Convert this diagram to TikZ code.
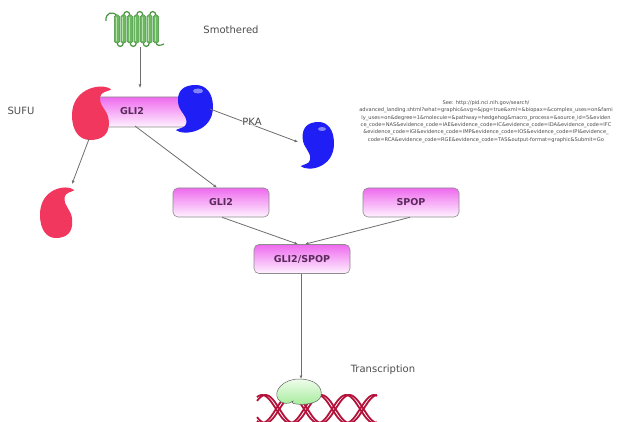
\documentclass[tikz,border=0pt]{standalone}
\usepackage{fontspec}
\setmainfont{DejaVu Sans}
\usetikzlibrary{arrows.meta}

\definecolor{lbl}{HTML}{4D4D4D}
\definecolor{boxtxt}{HTML}{5A2A5A}
\definecolor{magtop}{HTML}{EE6AEE}
\definecolor{magbot}{HTML}{FFF2FF}
\definecolor{boxedge}{HTML}{8C8C8C}
\definecolor{sufured}{HTML}{F2375E}
\definecolor{pkablue}{HTML}{1E1EF5}
\definecolor{linkgray}{HTML}{6E6E6E}
\definecolor{dnared}{HTML}{B3123A}
\definecolor{helixgreen}{HTML}{6DB862}
\definecolor{helixdark}{HTML}{4A9442}
\definecolor{helixlight}{HTML}{B2E2A6}
\definecolor{beantop}{HTML}{EEFCEA}
\definecolor{beanbot}{HTML}{A6EC9C}

\tikzset{
  protbox/.style={draw=boxedge, line width=0.6pt, rounded corners=5pt,
    minimum width=96pt, minimum height=29pt, top color=magtop, bottom color=magbot,
    font=\bfseries\fontsize{9.5}{11}\selectfont, text=boxtxt, inner sep=0pt},
  lbltxt/.style={font=\fontsize{10}{12}\selectfont, text=lbl, inner sep=0pt},
  urltxt/.style={font=\fontsize{5.1}{7.4}\selectfont, text=lbl, inner sep=0pt, align=center},
  link/.style={draw=linkgray, line width=0.8pt, -{Latex[length=3.5pt,width=3pt]}},
  dnastrand/.style={draw=dnared, line width=1.8pt},
  comma/.pic={
    \fill[pic actions] (0.98,0.08) .. controls (0.75,-0.05) and (0.0,0.05) .. (0.0,0.55)
      .. controls (0.0,0.85) and (0.2,1.0) .. (0.45,1.0)
      .. controls (0.75,1.0) and (0.95,0.9) .. (0.92,0.65)
      .. controls (0.9,0.45) and (0.68,0.4) .. (0.7,0.22)
      .. controls (0.72,0.12) and (0.9,0.12) .. (0.98,0.08) -- cycle;
  }
}

\begin{document}
\begin{tikzpicture}[x=1pt,y=-1pt]
\useasboundingbox (0,0) rectangle (619,422);
\clip (0,0) rectangle (619,422);
\fill[white] (0,0) rectangle (619,422);

% ---- Smoothened: seven transmembrane helices ----
\draw[helixdark, line width=1.2pt]
  (106,21) .. controls (105,13) and (113,10) .. (117,16)
  (117,42) .. controls (117,48) and (123.5,48) .. (123.5,42)
  (123.5,16) .. controls (123.5,10) and (130,10) .. (130,16)
  (130,42) .. controls (130,48) and (136.5,48) .. (136.5,42)
  (136.5,16) .. controls (136.5,10) and (143,10) .. (143,16)
  (143,42) .. controls (143,48) and (149.5,48) .. (149.5,42)
  (149.5,16) .. controls (149.5,10) and (156,10) .. (156,16)
  (156,42) .. controls (156,46) and (160,46) .. (164,44);
\foreach \hx in {117,123.5,130,136.5,143,149.5,156}{
  \fill[helixgreen, draw=helixdark, line width=0.5pt, rounded corners=1.5pt]
    (\hx-2.6,15) rectangle (\hx+2.6,43);
  \draw[helixlight, line width=1pt] (\hx-0.6,17) -- (\hx-0.6,41);
}
\node[lbltxt] (smoLbl) at (231,30) {Smothered};

% ---- GLI2 held by SUFU and PKA ----
\node[protbox, minimum width=92pt, minimum height=30pt, rounded corners=3pt] (gliBar) at (143,112) {};
\node[font=\bfseries\fontsize{9.5}{11}\selectfont, text=boxtxt, inner sep=0pt] (gliBarTxt) at (132,111) {GLI2};

\pic[fill=sufured, xscale=40, yscale=55] at (72,85) {comma};
\pic[fill=pkablue, xscale=-38, yscale=-49] at (213,134) {comma};
\fill[white, opacity=0.45] (198,91) ellipse (5pt and 2.5pt);
\node[lbltxt] (sufuLbl) at (21,111) {SUFU};

% released SUFU and PKA
\pic[fill=sufured, xscale=35, yscale=52] at (40,186) {comma};
\pic[fill=pkablue, xscale=-34, yscale=-48] at (334,170) {comma};
\fill[white, opacity=0.45] (322,129) ellipse (4pt and 2pt);

% ---- processed GLI2 and SPOP ----
\node[protbox] (gliBox) at (221,202.5) {GLI2};
\node[protbox] (spopBox) at (411,202.5) {SPOP};
\node[protbox] (complexBox) at (302,259) {GLI2/SPOP};

% ---- connector end points ----
\coordinate (smoBase) at (140,47);
\coordinate (barTop) at (140,88);
\coordinate (sufuOut) at (89,139);
\coordinate (sufuIn) at (72,184);
\coordinate (barOut) at (135,126);
\coordinate (pkaOut) at (210,109);
\coordinate (pkaIn) at (298,142);
\coordinate (beanTop) at (301,379);

\draw[link] (smoBase) -- (barTop);
\draw[link] (sufuOut) -- (sufuIn);
\draw[link] (barOut) -- (gliBox.north -| 217,0);
\draw[link] (pkaOut) -- (pkaIn);
\node[lbltxt, fill=white, fill opacity=0.6, text opacity=1] (pkaLbl) at (252,122) {PKA};
\draw[link] (gliBox.south -| 222,0) -- (complexBox.north -| 298,0);
\draw[link] (spopBox.south -| 410,0) -- (complexBox.north -| 305,0);
\draw[link] (complexBox.south -| 301,0) -- (beanTop);

% ---- DNA double helix (period 56) ----
\foreach \ph in {0,3.5,28,31.5}{
  \draw[dnastrand] plot[domain=257:377, samples=90] (\x,{409-14*cos(6.4286*(\x-290-\ph))});
}

% ---- transcription factor bound to DNA ----
\draw[top color=beantop, bottom color=beanbot, draw=black!60, line width=0.5pt]
  (293,401) .. controls (289,405) and (281,404) .. (278,399)
  .. controls (273,391) and (283,379) .. (299,379)
  .. controls (315,379) and (323,387) .. (321,396)
  .. controls (319,404) and (303,405) .. (296,404)
  .. controls (292,403.5) and (291,402) .. (293,401) -- cycle;
\node[lbltxt] (transLbl) at (383,370) {Transcription};

% ---- source note ----
\node[urltxt] (srcNote) at (486,121.5) {See: http://pid.nci.nih.gov/search/\\
advanced\_landing.shtml?what=graphic\&svg=\&jpg=true\&xml=\&biopax=\&complex\_uses=on\&fami\\
ly\_uses=on\&degree=1\&molecule=\&pathway=hedgehog\&macro\_process=\&source\_id=5\&eviden\\
ce\_code=NAS\&evidence\_code=IAE\&evidence\_code=IC\&evidence\_code=IDA\&evidence\_code=IFC\\
\&evidence\_code=IGI\&evidence\_code=IMP\&evidence\_code=IOS\&evidence\_code=IPI\&evidence\_\\
code=RCA\&evidence\_code=RGE\&evidence\_code=TAS\&output-format=graphic\&Submit=Go};
\end{tikzpicture}
\end{document}
